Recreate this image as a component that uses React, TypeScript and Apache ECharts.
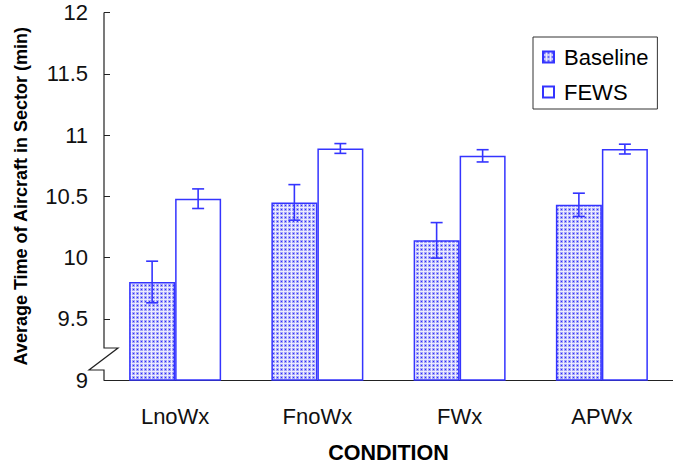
import React, { useEffect, useRef } from "react";
import * as echarts from "echarts";

const categories = ["LnoWx", "FnoWx", "FWx", "APWx"];
const baselineMeans = [9.8, 10.45, 10.14, 10.43];
const baselineErrs = [0.17, 0.145, 0.145, 0.095];
const fewsMeans = [10.48, 10.89, 10.83, 10.885];
const fewsErrs = [0.08, 0.04, 0.05, 0.04];
const yTicks = { min: 9, max: 12, interval: 0.5 };

const BLUE = "#3434ff";
const FONT = "Liberation Sans, Arial, sans-serif";

function makePattern(): string {
  const c = document.createElement("canvas");
  c.width = 4;
  c.height = 4;
  const ctx = c.getContext("2d")!;
  for (let y = 0; y < 4; y++) {
    for (let x = 0; x < 4; x++) {
      let col = "#a6a6f7";
      if (x === 3 || y === 3) col = "#ececff";
      if (x === 1 && y === 1) col = "#2a2aff";
      ctx.fillStyle = col;
      ctx.fillRect(x, y, 1, 1);
    }
  }
  return c.toDataURL();
}

function errSeries(name: string, means: number[], errs: number[], offset: number) {
  return {
    type: "custom",
    name: name + "-err",
    z: 5,
    data: means.map((m, i) => [i, m, errs[i]]),
    encode: { x: 0, y: 1 },
    renderItem: (params: any, api: any) => {
      const xi = api.value(0);
      const m = api.value(1);
      const e = api.value(2);
      const hi = api.coord([xi, m + e]);
      const lo = api.coord([xi, m - e]);
      const x = hi[0] + offset;
      const cap = 6;
      const style = { stroke: BLUE, lineWidth: 1.6 };
      return {
        type: "group",
        children: [
          { type: "line", shape: { x1: x, y1: hi[1], x2: x, y2: lo[1] }, style },
          { type: "line", shape: { x1: x - cap, y1: hi[1], x2: x + cap, y2: hi[1] }, style },
          { type: "line", shape: { x1: x - cap, y1: lo[1], x2: x + cap, y2: lo[1] }, style },
        ],
      };
    },
  };
}

export default function App() {
  const ref = useRef<HTMLDivElement>(null);
  useEffect(() => {
    if (!ref.current) return;
    const chart = echarts.init(ref.current, null, { renderer: "svg" });
    const pattern = { image: makePattern(), repeat: "repeat" };
    const barW = 46;
    chart.setOption({
      animation: false,
      backgroundColor: "#ffffff",
      grid: { left: 104, top: 12.5, width: 578, height: 371.5 },
      legend: {
        data: ["Baseline", "FEWS"],
        orient: "vertical",
        left: 533,
        top: 37,
        padding: [9, 9, 6, 9],
        itemGap: 13,
        itemWidth: 11,
        itemHeight: 11,
        borderColor: "#333",
        borderWidth: 1,
        icon: "rect",
        textStyle: { fontFamily: FONT, fontSize: 22, color: "#000", padding: [0, 0, 0, 5] },
      },
      xAxis: {
        type: "category",
        data: categories,
        axisLine: { lineStyle: { color: "#222", width: 1.2 } },
        axisTick: { show: false },
        axisLabel: { fontFamily: FONT, fontSize: 22, color: "#111", margin: 25 },
        name: "CONDITION",
        nameLocation: "middle",
        nameGap: 62,
        nameTextStyle: { fontFamily: FONT, fontSize: 21.5, fontWeight: "bold", color: "#000" },
      },
      yAxis: {
        type: "value",
        min: yTicks.min,
        max: yTicks.max,
        interval: yTicks.interval,
        axisLine: { show: false },
        axisTick: { show: true, inside: true, length: 6, lineStyle: { color: "#222" } },
        splitLine: { show: false },
        axisLabel: {
          fontFamily: FONT,
          fontSize: 22,
          color: "#111",
          margin: 16,
          formatter: (v: number) => String(v),
        },
        name: "Average Time of Aircraft in Sector (min)",
        nameLocation: "middle",
        nameRotate: 90,
        nameGap: 74,
        nameTextStyle: { fontFamily: FONT, fontSize: 18, fontWeight: "bold", color: "#000" },
      },
      series: [
        {
          type: "bar",
          name: "Baseline",
          data: baselineMeans,
          barWidth: barW,
          barGap: "0%",
          itemStyle: { color: pattern, borderColor: BLUE, borderWidth: 1.5 },
        },
        {
          type: "bar",
          name: "FEWS",
          data: fewsMeans,
          barWidth: barW,
          barGap: "0%",
          itemStyle: { color: "#ffffff", borderColor: BLUE, borderWidth: 1.5 },
        },
        errSeries("Baseline", baselineMeans, baselineErrs, -barW / 2),
        errSeries("FEWS", fewsMeans, fewsErrs, barW / 2),
      ],
    });
    const ax = 104;
    const y12 = chart.convertToPixel({ yAxisIndex: 0 }, 12) as number;
    const y9 = chart.convertToPixel({ yAxisIndex: 0 }, 9) as number;
    chart.setOption({
      graphic: [
        {
          type: "polyline",
          z: 10,
          shape: {
            points: [
              [ax, y12],
              [ax, y9 - 32],
              [ax + 14, y9 - 32],
              [ax - 15, y9 - 10],
              [ax, y9 - 10],
              [ax, y9],
            ],
          },
          style: { stroke: "#222", lineWidth: 1.2, fill: null },
        },
      ],
    });
    return () => chart.dispose();
  }, []);
  return (
    <div
      ref={ref}
      style={{ position: "absolute", left: 0, top: 0, width: 673, height: 469 }}
    />
  );
}
